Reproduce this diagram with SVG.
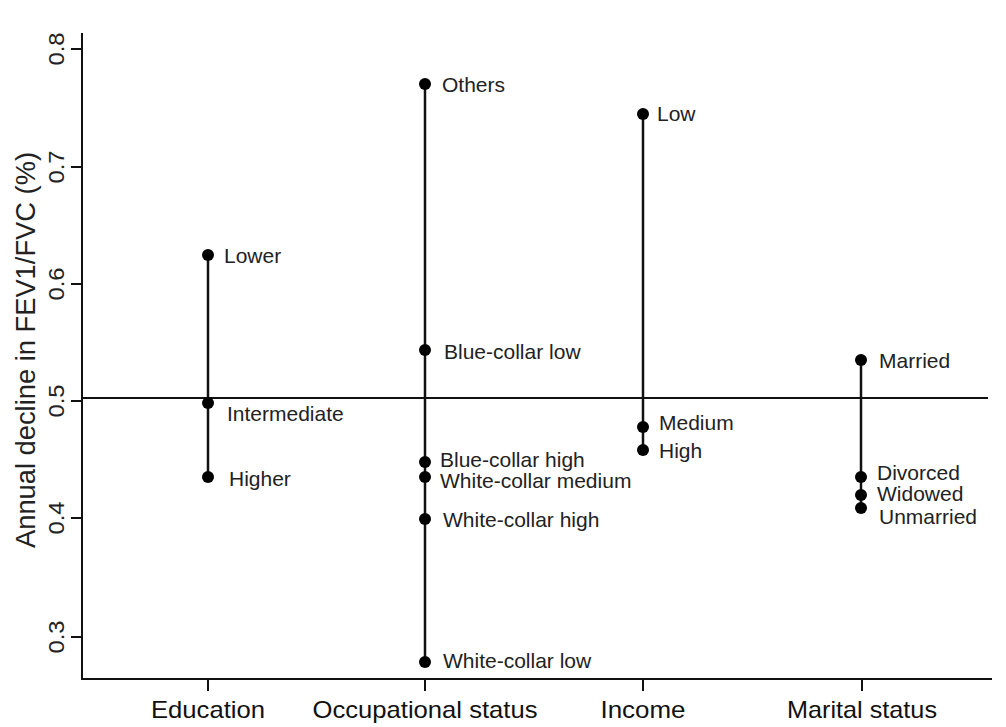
<svg xmlns="http://www.w3.org/2000/svg" width="1006" height="727" viewBox="0 0 1006 727">
<style>
.ax{stroke:#111;stroke-width:2;fill:none}
.seg{stroke:#111;stroke-width:2.5;fill:none}
.dot{fill:#000}
.lbl{font-family:"Liberation Sans",Arial,sans-serif;font-size:21px;fill:#222}
.tick{font-family:"Liberation Sans",Arial,sans-serif;font-size:22px;fill:#222}
.cat{font-family:"Liberation Sans",Arial,sans-serif;font-size:24px;fill:#111}
.ylab{font-family:"Liberation Sans",Arial,sans-serif;font-size:27px;fill:#222}
</style>
<rect width="1006" height="727" fill="#fff"/>
<g id="axes">
<path class="ax" d="M82,33V679H992"/>
<path class="ax" d="M71,49H82M71,167H82M71,284H82M71,401H82M71,518H82M71,637H82"/>
<path class="ax" d="M208,679V691M425,679V691M643,679V691M862,679V691"/>
<g class="tick" text-anchor="middle">
<text transform="translate(64,49) rotate(-90)" textLength="33" lengthAdjust="spacingAndGlyphs">0.8</text>
<text transform="translate(64,167) rotate(-90)" textLength="33" lengthAdjust="spacingAndGlyphs">0.7</text>
<text transform="translate(64,284) rotate(-90)" textLength="33" lengthAdjust="spacingAndGlyphs">0.6</text>
<text transform="translate(64,401) rotate(-90)" textLength="33" lengthAdjust="spacingAndGlyphs">0.5</text>
<text transform="translate(64,518) rotate(-90)" textLength="33" lengthAdjust="spacingAndGlyphs">0.4</text>
<text transform="translate(64,637) rotate(-90)" textLength="33" lengthAdjust="spacingAndGlyphs">0.3</text>
</g>
<text class="ylab" text-anchor="middle" transform="translate(35,350) rotate(-90)" textLength="396" lengthAdjust="spacingAndGlyphs">Annual decline in FEV1/FVC (%)</text>
<g class="cat" text-anchor="middle">
<text x="208" y="718" textLength="114" lengthAdjust="spacingAndGlyphs">Education</text>
<text x="425" y="718" textLength="225" lengthAdjust="spacingAndGlyphs">Occupational status</text>
<text x="643" y="718" textLength="85" lengthAdjust="spacingAndGlyphs">Income</text>
<text x="862" y="718" textLength="150" lengthAdjust="spacingAndGlyphs">Marital status</text>
</g>
<line id="reference-line" class="ax" x1="82" y1="398" x2="988" y2="398"/>
</g>
<g id="connectors">
<line class="seg" x1="208" y1="255" x2="208" y2="477"/>
<line class="seg" x1="425" y1="84" x2="425" y2="662"/>
<line class="seg" x1="643" y1="114" x2="643" y2="450"/>
<line class="seg" x1="861" y1="360" x2="861" y2="508"/>
</g>
<g id="edu-lower"><circle class="dot" cx="208" cy="255" r="6"/><text class="lbl" x="224" y="263">Lower</text></g>
<g id="edu-intermediate"><circle class="dot" cx="208" cy="403" r="6"/><text class="lbl" x="227" y="421">Intermediate</text></g>
<g id="edu-higher"><circle class="dot" cx="208" cy="477" r="6"/><text class="lbl" x="229" y="486">Higher</text></g>
<g id="occ-others"><circle class="dot" cx="425" cy="84" r="6"/><text class="lbl" x="442" y="92">Others</text></g>
<g id="occ-bluelow"><circle class="dot" cx="425" cy="350" r="6"/><text class="lbl" x="444" y="359">Blue-collar low</text></g>
<g id="occ-bluehigh"><circle class="dot" cx="425" cy="462" r="6"/><text class="lbl" x="440" y="467">Blue-collar high</text></g>
<g id="occ-whitemedium"><circle class="dot" cx="425" cy="477" r="6"/><text class="lbl" x="440" y="488">White-collar medium</text></g>
<g id="occ-whitehigh"><circle class="dot" cx="425" cy="519" r="6"/><text class="lbl" x="443" y="527">White-collar high</text></g>
<g id="occ-whitelow"><circle class="dot" cx="425" cy="662" r="6"/><text class="lbl" x="443" y="668">White-collar low</text></g>
<g id="inc-low"><circle class="dot" cx="643" cy="114" r="6"/><text class="lbl" x="657" y="121">Low</text></g>
<g id="inc-medium"><circle class="dot" cx="643" cy="427" r="6"/><text class="lbl" x="659" y="430">Medium</text></g>
<g id="inc-high"><circle class="dot" cx="643" cy="450" r="6"/><text class="lbl" x="659" y="458">High</text></g>
<g id="mar-married"><circle class="dot" cx="861" cy="360" r="6"/><text class="lbl" x="879" y="368">Married</text></g>
<g id="mar-divorced"><circle class="dot" cx="861" cy="477" r="6"/><text class="lbl" x="877" y="480">Divorced</text></g>
<g id="mar-widowed"><circle class="dot" cx="861" cy="495" r="6"/><text class="lbl" x="877" y="501">Widowed</text></g>
<g id="mar-unmarried"><circle class="dot" cx="861" cy="508" r="6"/><text class="lbl" x="879" y="524">Unmarried</text></g>
</svg>
